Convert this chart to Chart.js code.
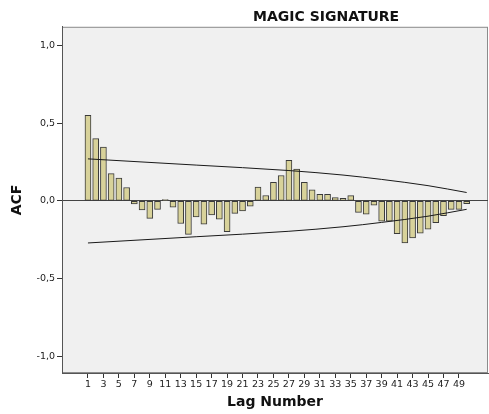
<!DOCTYPE html>
<html><head><meta charset="utf-8">
<script src="https://cdn.jsdelivr.net/npm/chart.js@4/dist/chart.umd.min.js"></script>
<style>html,body{margin:0;padding:0;background:#fff}</style>
</head><body>
<canvas id="c" width="489" height="414"></canvas>
<script>
const chartTitle = 'MAGIC SIGNATURE';
const lags = [1,2,3,4,5,6,7,8,9,10,11,12,13,14,15,16,17,18,19,20,21,22,23,24,25,26,27,28,29,30,31,32,33,34,35,36,37,38,39,40,41,42,43,44,45,46,47,48,49,50];
const acf = [0.55,0.40,0.345,0.175,0.147,0.086,-0.02,-0.058,-0.112,-0.054,
             0.008,-0.04,-0.145,-0.215,-0.102,-0.149,-0.09,-0.118,-0.197,-0.08,
             -0.065,-0.034,0.089,0.035,0.12,0.163,0.26,0.205,0.12,0.071,
             0.042,0.043,0.021,0.017,0.034,-0.074,-0.085,-0.028,-0.13,-0.13,
             -0.21,-0.27,-0.237,-0.207,-0.182,-0.14,-0.095,-0.054,-0.054,-0.017];
const boundLags = [1,15,27,34,39,45,50];
const upperBound = [0.27,0.23,0.195,0.166,0.138,0.098,0.054];
const lowerBound = [-0.27,-0.23,-0.195,-0.166,-0.138,-0.098,-0.054];
const xTickLabels = [1,3,5,7,9,11,13,15,17,19,21,23,25,27,29,31,33,35,37,39,41,43,45,47,49];
const yTickValues = [-1,-0.5,0,0.5,1];
const yTickLabels = ['-1,0','-0,5','0,0','0,5','1,0'];

const bgPlugin = {
  id: 'bg',
  beforeDraw(chart) {
    const {ctx, chartArea: a} = chart;
    ctx.save();
    ctx.fillStyle = '#f0f0f0';
    ctx.fillRect(a.left, a.top, a.right - a.left, a.bottom - a.top);
    ctx.strokeStyle = '#8c8c8c';
    ctx.lineWidth = 1;
    ctx.strokeRect(a.left + 0.5, a.top + 0.5, a.right - a.left - 1, a.bottom - a.top - 1);
    ctx.restore();
  },
  afterLayout(chart) {
    const t = chart.titleBlock, a = chart.chartArea;
    if (!t) return;
    const want = a.left + 0.62 * (a.right - a.left);
    const shift = want - (t.left + t.right) / 2;
    t.left += shift; t.right += shift;
  }
};

const boldFont = {family: "'DejaVu Sans', sans-serif", size: 14, weight: 'bold'};
const tickFont = {family: "'DejaVu Sans', sans-serif", size: 9.5};

new Chart(document.getElementById('c'), {
  type: 'bar',
  data: {
    datasets: [
      {
        type: 'line',
        data: boundLags.map((l, i) => ({x: l, y: upperBound[i]})),
        borderColor: '#1a1a1a', borderWidth: 1, pointRadius: 0,
        cubicInterpolationMode: 'monotone', fill: false, order: 1
      },
      {
        type: 'line',
        data: boundLags.map((l, i) => ({x: l, y: lowerBound[i]})),
        borderColor: '#1a1a1a', borderWidth: 1, pointRadius: 0,
        cubicInterpolationMode: 'monotone', fill: false, order: 1
      },
      {
        type: 'bar',
        data: lags.map((l, i) => ({x: l, y: acf[i]})),
        backgroundColor: '#d8d29a',
        borderColor: '#3a3a3a',
        borderWidth: 1,
        borderSkipped: false,
        barThickness: 6,
        order: 2
      }
    ]
  },
  options: {
    responsive: false,
    animation: false,
    layout: {padding: {left: 0, right: 1, top: 0, bottom: 0}},
    plugins: {
      legend: {display: false},
      tooltip: {enabled: false},
      title: {
        display: true, text: chartTitle, color: '#111',
        font: boldFont, padding: {top: 9, bottom: 1}
      }
    },
    scales: {
      x: {
        type: 'linear', min: -2.36, max: 52.76, offset: false,
        afterBuildTicks: s => { s.ticks = xTickLabels.map(v => ({value: v})); },
        afterFit: s => { s.height = 41; },
        ticks: {autoSkip: false, maxRotation: 0, minRotation: 0, font: tickFont, color: '#222', padding: 1,
                callback: v => String(v)},
        grid: {offset: false, drawOnChartArea: false, tickLength: 5, tickColor: '#333', lineWidth: 1},
        border: {display: true, color: '#555'},
        title: {display: true, text: 'Lag Number', color: '#111', font: boldFont, padding: {top: 0, bottom: 3}}
      },
      y: {
        type: 'linear', min: -1.105, max: 1.118,
        afterBuildTicks: s => { s.ticks = yTickValues.map(v => ({value: v})); },
        afterFit: s => { s.width = 62; },
        ticks: {autoSkip: false, font: tickFont, color: '#222', padding: 2,
                callback: v => yTickLabels[yTickValues.indexOf(v)]},
        grid: {drawOnChartArea: true, tickLength: 5, tickColor: '#333', lineWidth: 1,
               color: c => (c.tick && c.tick.value === 0) ? '#444' : 'rgba(0,0,0,0)'},
        border: {display: true, color: '#555'},
        title: {display: true, text: 'ACF', color: '#111', font: boldFont, padding: {top: 9, bottom: 0}}
      }
    }
  },
  plugins: [bgPlugin]
});
</script>
</body></html>
